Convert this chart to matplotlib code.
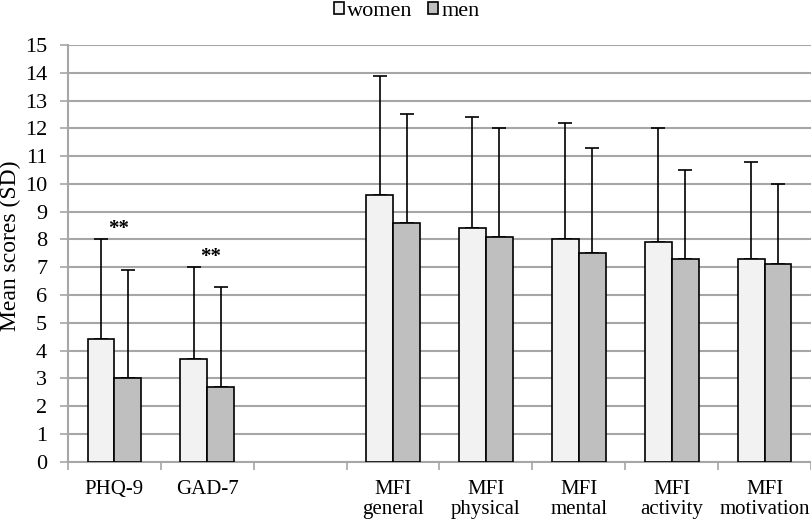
import matplotlib.pyplot as plt
import numpy as np

categories = ["PHQ-9", "GAD-7", "", "MFI\ngeneral", "MFI\nphysical",
              "MFI\nmental", "MFI\nactivity", "MFI\nmotivation"]
women_mean = [4.4, 3.7, np.nan, 9.6, 8.4, 8.0, 7.9, 7.3]
women_sd = [3.6, 3.3, np.nan, 4.3, 4.0, 4.2, 4.1, 3.5]
men_mean = [3.0, 2.7, np.nan, 8.6, 8.1, 7.5, 7.3, 7.1]
men_sd = [3.9, 3.6, np.nan, 3.9, 3.9, 3.8, 3.2, 2.9]
signif = ["**", "**", "", "", "", "", "", ""]

plt.rcParams['font.family'] = ['Liberation Serif', 'DejaVu Serif']

fig = plt.figure(figsize=(8.12, 5.21), dpi=100)
ax = fig.add_axes([68 / 812, 59.3 / 521, 743 / 812, 416.7 / 521])

x = np.arange(len(categories))
w = 0.29
grey = '#a6a6a6'

ax.bar(x - w / 2, women_mean, w, color='#f2f2f2', edgecolor='black', linewidth=1.2,
       label='women', zorder=3)
ax.bar(x + w / 2, men_mean, w, color='#bfbfbf', edgecolor='black', linewidth=1.2,
       label='men', zorder=3)

zeros = np.zeros(len(categories))
ax.errorbar(x - w / 2, women_mean, yerr=[zeros, women_sd], fmt='none', ecolor='black',
            elinewidth=1.2, capsize=5, capthick=1.2, zorder=2)
ax.errorbar(x + w / 2, men_mean, yerr=[zeros, men_sd], fmt='none', ecolor='black',
            elinewidth=1.2, capsize=5, capthick=1.2, zorder=2)

# significance marks above the women's error bars
for i, s in enumerate(signif):
    if s:
        top = women_mean[i] + women_sd[i]
        ax.text(x[i] + 0.04, top + 0.36, s, ha='center', va='center', fontsize=15,
                fontweight='bold', zorder=4)

ax.set_xlim(-0.5, len(categories) - 0.5)
ax.set_ylim(0, 15)
ax.set_yticks(range(16))
ax.yaxis.grid(True, color=grey, linewidth=1.5, zorder=0)
ax.set_axisbelow(True)

ax.set_xticks(x)
ax.set_xticklabels(categories, fontsize=15, linespacing=1.1)
ax.set_xticks(np.arange(len(categories) + 1) - 0.5, minor=True)
ax.tick_params(axis='x', which='major', length=0, pad=13)
ax.tick_params(axis='x', which='minor', length=6, width=1.2, color=grey)
ax.tick_params(axis='y', length=6, width=1.2, color=grey, labelsize=16, pad=9)

for side in ['top', 'right']:
    ax.spines[side].set_visible(False)
for side in ['left', 'bottom']:
    ax.spines[side].set_color(grey)
    ax.spines[side].set_linewidth(1.5)

fig.text(10 / 812, 0.528, 'Mean scores (SD)', rotation=90, ha='center', va='center',
         fontsize=17)

fig.legend(loc='upper center', bbox_to_anchor=(0.501, 1.0), ncol=2, frameon=False,
           fontsize=16, handlelength=0.45, handleheight=0.45, handletextpad=0.15,
           columnspacing=0.7, borderaxespad=0, borderpad=0.1)

fig.savefig('out.png', dpi=100)
